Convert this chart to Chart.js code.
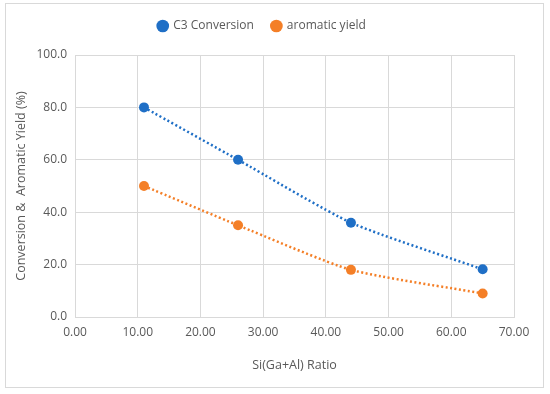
<!DOCTYPE html>
<html>
<head>
<meta charset="utf-8">
<script src="https://cdn.jsdelivr.net/npm/chart.js@4"></script>
<style>
  body { margin: 0; background: #fff; }
  #caja { position: absolute; left: 0; top: 0; width: 550px; height: 394px; }
  #marco { position: absolute; left: 5px; top: 3px; width: 539px; height: 385px; border: 1px solid #d9d9d9; box-sizing: border-box; }
</style>
</head>
<body>
<div id="marco"></div>
<div id="caja"><canvas id="grafico" width="550" height="394"></canvas></div>
<script>
// datos
const ratio = [11, 26, 44, 65]
const conversion = [80, 60, 36, 18.2]
const aromaticos = [50, 35, 18, 9]

const nombres = ['C3 Conversion', 'aromatic yield']
const colores = ['#1f6fc6', '#f47f27']

const puntos = (ys) => ratio.map((x, i) => ({ x: x, y: ys[i] }))

const serie = (nombre, ys, color) => ({
    label: nombre,
    data: puntos(ys),
    showLine: true,
    borderColor: color,
    backgroundColor: color,
    borderWidth: 2.5,
    borderDash: [2, 2.5],
    tension: 0.2,
    pointRadius: 5,
    pointHoverRadius: 5,
    pointBorderWidth: 0,
    pointStyle: 'circle'
})

const fuente = { family: 'Open Sans', size: 12 }
const gris = '#595959'

// espacio extra bajo la leyenda
const espacioLeyenda = {
    id: 'espacioLeyenda',
    beforeInit(chart) {
        const fitOriginal = chart.legend.fit
        chart.legend.fit = function () {
            fitOriginal.bind(chart.legend)()
            this.height += 13
        }
    }
}

new Chart(document.getElementById('grafico'), {
    type: 'scatter',
    data: {
        datasets: [
            serie(nombres[0], conversion, colores[0]),
            serie(nombres[1], aromaticos, colores[1])
        ]
    },
    plugins: [espacioLeyenda],
    options: {
        responsive: false,
        animation: false,
        layout: { padding: { left: 10, right: 36, top: 2, bottom: 17 } },
        plugins: {
            tooltip: { enabled: false },
            legend: {
                position: 'top',
                labels: {
                    usePointStyle: true,
                    pointStyle: 'circle',
                    boxWidth: 9,
                    boxHeight: 9,
                    padding: 18,
                    color: gris,
                    font: fuente
                }
            }
        },
        scales: {
            x: {
                type: 'linear',
                min: 0,
                max: 70,
                ticks: {
                    stepSize: 10,
                    color: gris,
                    font: fuente,
                    padding: 8,
                    callback: v => v.toFixed(2)
                },
                grid: { color: '#d9d9d9', drawTicks: false },
                border: { color: '#d9d9d9' },
                title: { display: true, text: 'Si(Ga+Al) Ratio', color: gris, font: { family: 'Open Sans', size: 12.5 }, padding: { top: 10 } },
                afterFit: (s) => { s.height = 394 - 317 - 17 }
            },
            y: {
                min: 0,
                max: 100,
                ticks: {
                    stepSize: 20,
                    color: gris,
                    font: fuente,
                    padding: 8,
                    callback: v => v.toFixed(1)
                },
                grid: { color: '#d9d9d9', drawTicks: false },
                border: { color: '#d9d9d9' },
                title: { display: true, text: 'Conversion &  Aromatic Yield (%)', color: gris, font: { family: 'Open Sans', size: 12.5 } },
                afterFit: (s) => { s.width = 75 - 10 }
            }
        }
    }
})
</script>
</body>
</html>
